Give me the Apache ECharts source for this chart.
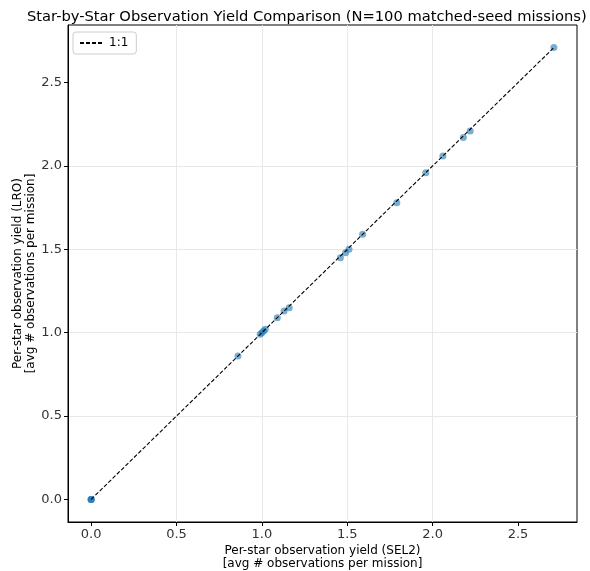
<!DOCTYPE html>
<html lang="en">
<head>
    <meta charset="UTF-8">
    <title>Star-by-Star Observation Yield Comparison</title>
    <script src="https://cdn.jsdelivr.net/npm/echarts@6/dist/echarts.min.js"></script>
    <style>
        html, body { margin: 0; padding: 0; background: #fff; }
    </style>
</head>
<body>

<div id="main" style="width:590px; height:571px;"></div>

<script>
    // per-star yields, SEL2 (x) vs LRO (y)
    var sel2Yield = [0.0, 0.0, 0.0, 0.86, 0.99, 1.00, 1.01, 1.02, 1.09, 1.13, 1.16,
                     1.46, 1.49, 1.51, 1.59, 1.79, 1.96, 2.06, 2.18, 2.22, 2.71];
    var lroYield  = [0.0, 0.0, 0.0, 0.86, 0.99, 1.00, 1.01, 1.02, 1.09, 1.13, 1.15,
                     1.45, 1.48, 1.50, 1.59, 1.78, 1.96, 2.06, 2.17, 2.21, 2.71];
    // ends of the 1:1 reference line
    var oneToOne = [0.0, 2.71];
    var tickValues = [0.0, 0.5, 1.0, 1.5, 2.0, 2.5];

    var points = sel2Yield.map(function (x, i) { return [x, lroYield[i]]; });
    var lineData = oneToOne.map(function (v) { return [v, v]; });

    var font = 'DejaVu Sans';
    var pad = 0.05 * (oneToOne[1] - oneToOne[0]);

    function tickLabel(v) {
        for (var i = 0; i < tickValues.length; i++) {
            if (Math.abs(v - tickValues[i]) < 1e-6) return tickValues[i].toFixed(1);
        }
        return '';
    }

    function axisOpts(name, gap) {
        return {
            type: 'value',
            min: oneToOne[0] - pad,
            max: oneToOne[1] + pad,
            splitNumber: 6,
            name: name,
            nameLocation: 'middle',
            nameGap: gap,
            nameMoveOverlap: false,
            nameTextStyle: { fontFamily: font, fontSize: 12, color: '#000', lineHeight: 13 },
            axisLine: { show: true, onZero: false, lineStyle: { color: '#000', width: 1 } },
            axisTick: { show: true, inside: false, length: 4, customValues: tickValues,
                        lineStyle: { color: '#000' } },
            axisLabel: { fontFamily: font, fontSize: 13, color: '#333', margin: 6,
                         customValues: tickValues, formatter: tickLabel },
            splitLine: { show: true, showMinLine: false, showMaxLine: false,
                         lineStyle: { color: '#e8e8e8', width: 1 } }
        };
    }

    var chart = echarts.init(document.getElementById('main'));
    chart.setOption({
        animation: false,
        backgroundColor: '#fff',
        title: {
            text: 'Star-by-Star Observation Yield Comparison (N=100 matched-seed missions)',
            left: 22,
            top: 5,
            textStyle: { fontFamily: font, fontSize: 14.7, fontWeight: 'normal', color: '#000' }
        },
        legend: {
            left: 73,
            top: 32,
            data: [{ name: '1:1', itemStyle: { opacity: 0 } }],
            borderColor: '#ccc',
            borderWidth: 1,
            borderRadius: 3,
            padding: [5, 8, 5, 6],
            itemWidth: 24,
            itemHeight: 10,
            itemGap: 8,
            textStyle: { fontFamily: font, fontSize: 12, color: '#000' }
        },
        grid: {
            left: 68,
            right: 13,
            top: 25,
            bottom: 49,
            show: true,
            borderColor: '#000',
            borderWidth: 1,
            outerBoundsMode: 'none',
            containLabel: false
        },
        xAxis: axisOpts('Per-star observation yield (SEL2)\n[avg # observations per mission]', 22),
        yAxis: axisOpts('Per-star observation yield (LRO)\n[avg # observations per mission]', 31),
        series: [{
            name: 'stars',
            type: 'scatter',
            symbolSize: 7,
            itemStyle: { color: '#1f77b4', opacity: 0.6 },
            data: points,
            z: 2
        }, {
            name: '1:1',
            type: 'line',
            symbol: 'none',
            lineStyle: { color: '#000', width: 1.1, type: [4, 2] },
            itemStyle: { color: '#000' },
            data: lineData,
            z: 3
        }]
    });
</script>
</body>
</html>
